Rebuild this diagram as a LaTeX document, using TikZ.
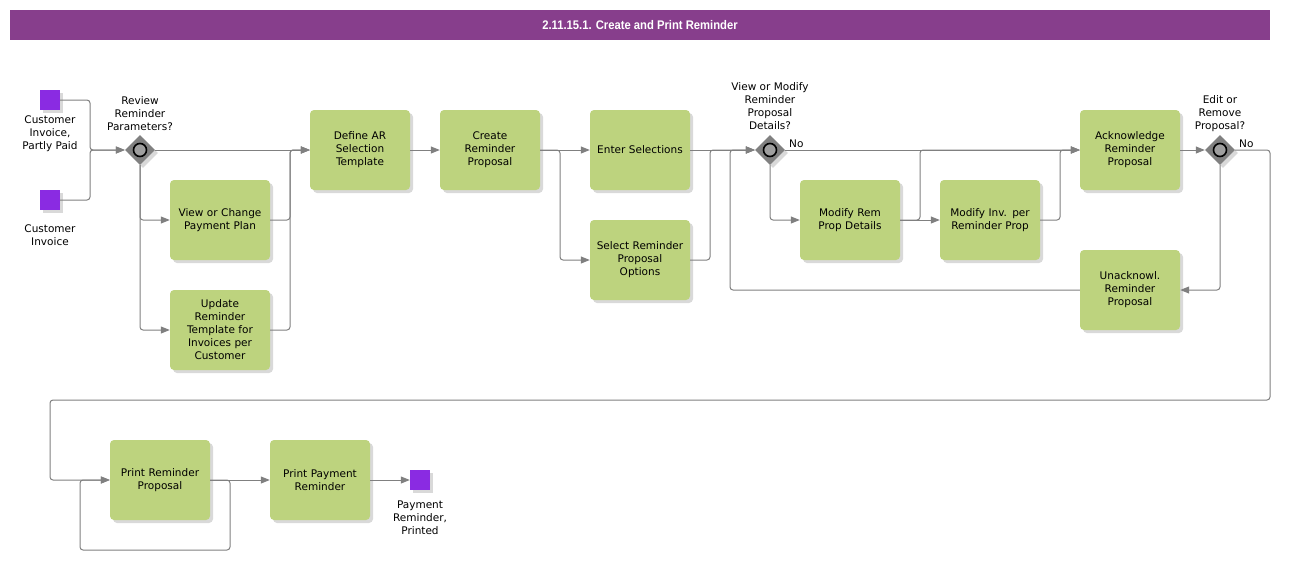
\documentclass[tikz,border=0pt]{standalone}
\usepackage{fontspec}
\setmainfont{DejaVu Sans}
\newfontfamily\fonttitolo[FakeStretch=0.9]{Liberation Sans}
\usetikzlibrary{positioning,shapes.geometric,shadows,arrows.meta}
\definecolor{viola}{HTML}{873E8C}
\definecolor{verde}{HTML}{BDD37E}
\definecolor{evviola}{HTML}{8A2BE2}
\definecolor{grigio}{HTML}{808080}

\begin{document}
\begin{tikzpicture}[x=1pt,y=-1pt,>={Triangle[length=9pt,width=7pt]},
		font=\fontsize{10.5}{13}\selectfont,
		ombra/.style={drop shadow={shadow xshift=3pt,shadow yshift=-3pt,opacity=0.3}},
		attivita/.style={fill=verde, rounded corners=4pt, minimum width=100pt,
			minimum height=80pt, text width=96pt, align=center, inner sep=0pt, ombra},
		evento/.style={fill=evviola, minimum size=20pt, inner sep=0pt, ombra},
		porta/.style={diamond, fill=grigio, minimum size=30pt, inner sep=0pt, ombra},
		cerchio/.style={draw=black, fill=gray!75, line width=1.6pt},
		etichetta/.style={align=center, inner sep=0pt},
		flusso/.style={draw=grigio, fill=none, line width=1pt, rounded corners=3pt, ->},
		titolo/.style={fill=viola, text=white, minimum width=1260pt, minimum height=30pt,
			inner sep=0pt, font=\fonttitolo\bfseries\fontsize{12.5}{13}\selectfont},
		]
		\useasboundingbox (0,0) rectangle (1310,560);
		% ── Gateway #1 in #2 ──
		\def\porta#1#2{%
			\node[porta] (#1) at (#2) {};
			\draw[cerchio] (#1.center) circle[radius=6.5pt];}
		
		% ===================== titolo =====================
		\node[titolo] (tit) at (640,25) {2.11.15.1. Create and Print Reminder};
		
		% ===================== riga superiore =====================
		\node[evento] (ci1) at (50,100) {};
		\node[etichetta] (ci1l) at (50,134) {Customer\\Invoice,\\Partly Paid};
		\node[evento] (ci2) at (50,200) {};
		\node[etichetta] (ci2l) at (50,235.5) {Customer\\Invoice};
		
		\porta{gw1}{140,150}
		\node[etichetta] (gw1l) at (140,114) {Review\\Reminder\\Parameters?};
		\node[attivita] (vp) at (220,220) {View or Change\\Payment Plan};
		\node[attivita] (ut) at (220,330) {Update\\Reminder\\Template for\\Invoices per\\Customer};
		\node[attivita] (da) at (360,150) {Define AR\\Selection\\Template};
		\node[attivita] (cr) at (490,150) {Create\\Reminder\\Proposal};
		\node[attivita] (es) at (640,150) {Enter Selections};
		\node[attivita] (so) at (640,260) {Select Reminder\\Proposal\\Options};
		
		\porta{gw2}{770,150}
		\node[etichetta] (gw2l) at (770,106) {View or Modify\\Reminder\\Proposal\\Details?};
		\node[etichetta, anchor=south west] (no1) at (789,148) {No};
		\node[attivita] (mr) at (850,220) {Modify Rem\\Prop Details};
		\node[attivita] (mi) at (990,220) {Modify Inv. per\\Reminder Prop};
		\node[attivita] (ak) at (1130,150) {Acknowledge\\Reminder\\Proposal};
		\node[attivita] (ua) at (1130,290) {Unacknowl.\\Reminder\\Proposal};
		
		\porta{gw3}{1220,150}
		\node[etichetta] (gw3l) at (1220,114) {Edit or\\Remove\\Proposal?};
		\node[etichetta, anchor=south west] (no2) at (1239,148) {No};
		
		% ===================== riga inferiore =====================
		\node[attivita] (pr) at (160,480) {Print Reminder\\Proposal};
		\node[attivita] (pp) at (320,480) {Print Payment\\Reminder};
		\node[evento] (ev3) at (420,480) {};
		\node[etichetta] (ev3l) at (420,518) {Payment\\Reminder,\\Printed};
		
		% ── punti di raccordo ──
		\coordinate (j1) at (90,150);
		\coordinate (j2) at (290,150);
		\coordinate (j3) at (560,260);
		\coordinate (j4) at (710,150);
		\coordinate (j5) at (920,150);
		\coordinate (j6) at (1060,150);
		\coordinate (j7) at (730,150);
		\coordinate (j8) at (1270,400);
		\coordinate (j9) at (50,480);
		\coordinate (j10) at (230,550);
		\coordinate (j11) at (80,480);
		
		% ===================== flussi =====================
		\draw[flusso] (ci1) -| (j1) -- (gw1);
		\draw[flusso] (ci2) -| (j1) -- (gw1);
		\draw[flusso] (gw1) -- (da);
		\draw[flusso] (gw1) |- (vp);
		\draw[flusso] (gw1) |- (ut);
		\draw[flusso] (vp) -| (j2) -- (da);
		\draw[flusso] (ut) -| (j2) -- (da);
		\draw[flusso] (da) -- (cr);
		\draw[flusso] (cr) -- (es);
		\draw[flusso] (cr) -| (j3) -- (so);
		\draw[flusso] (es) -- (gw2);
		\draw[flusso] (so) -| (j4) -- (gw2);
		\draw[flusso] (gw2) -- (ak);
		\draw[flusso] (gw2) |- (mr);
		\draw[flusso] (mr) -- (mi);
		\draw[flusso] (mr) -| (j5) -- (ak);
		\draw[flusso] (mi) -| (j6) -- (ak);
		\draw[flusso] (ak) -- (gw3);
		\draw[flusso] (gw3) |- (ua);
		\draw[flusso] (ua) -| (j7) -- (gw2);
		\draw[flusso] (gw3) -| (j8) -| (j9) -- (pr);
		\draw[flusso] (pr) -- (pp);
		\draw[flusso] (pr) -| (j10) -| (j11) -- (pr);
		\draw[flusso] (pp) -- (ev3);
		
\end{tikzpicture}
\end{document}
